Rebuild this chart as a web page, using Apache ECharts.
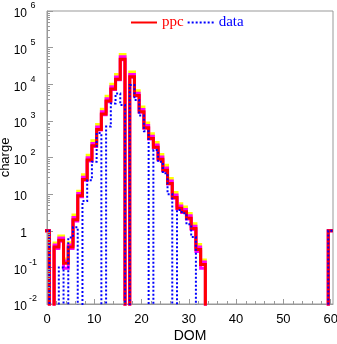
<!DOCTYPE html>
<html><head><meta charset="utf-8">
<script src="https://cdn.jsdelivr.net/npm/echarts@6/dist/echarts.min.js"></script>
<style>html,body{margin:0;padding:0;background:#fff}#c{width:337px;height:344px}</style>
</head><body><div id="c"></div>
<script>
// DOM bins 0..60 (bin k spans k-0.5 .. k+0.5)
const doms = [0,1,2,3,4,5,6,7,8,9,10,11,12,13,14,15,16,17,18,19,20,21,22,23,24,25,26,27,28,29,30,
  31,32,33,34,35,36,37,38,39,40,41,42,43,44,45,46,47,48,49,50,51,52,53,54,55,56,57,58,59,60];
const ppc = [1, 0, 0.36, 0.55, 0.13, 0.36, 2.0, 9, 25, 85, 210, 585, 1540, 3470, 7400, 13600, 48000, 0,
  16000, 4900, 1780, 650, 330, 190, 89, 45, 19.6, 8.1, 4.1, 3.3, 2.2, 1.15, 0.31, 0.12,
  0,0,0,0,0,0,0,0,0,0,0,0,0,0,0,0,0,0,0,0,0,0,0,0,0,0, 1];
const dataVals = [1, 0, 0, 0.1, 0, 0.65, 1.25, 0, 6.5, 24, 76, 465, 0, 700, 3000, 5600, 2700, 0,
  9500, 3700, 1400, 520, 0, 160, 76, 37, 10, 0, 3.7, 3.0, 1.5, 0.68, 0, 0,
  0,0,0,0,0,0,0,0,0,0,0,0,0,0,0,0,0,0,0,0,0,0,0,0,0,0, 1];
const band2Hi = [1, 0, 0.46, 0.72, 0.17, 0.47, 2.7, 12, 34, 115, 285, 790, 2080, 4700, 10000, 18400, 65000, 0,
  21600, 6600, 2400, 880, 445, 256, 120, 61, 26.5, 11, 5.5, 4.45, 2.95, 1.55, 0.42, 0.16,
  0,0,0,0,0,0,0,0,0,0,0,0,0,0,0,0,0,0,0,0,0,0,0,0,0,0, 1];
const band1Hi = [1, 0, 0.41, 0.63, 0.15, 0.41, 2.3, 10.4, 29, 98, 243, 680, 1780, 4000, 8600, 15800, 56000, 0,
  18500, 5700, 2060, 750, 380, 220, 103, 52, 22.7, 9.4, 4.75, 3.8, 2.55, 1.33, 0.36, 0.14,
  0,0,0,0,0,0,0,0,0,0,0,0,0,0,0,0,0,0,0,0,0,0,0,0,0,0, 1];
const band1Lo = [1, 0, 0.33, 0.52, 0.095, 0.33, 1.85, 8.5, 24, 80, 200, 560, 1480, 3350, 7150, 13200, 46500, 0,
  15500, 4750, 1720, 630, 320, 184, 86, 43.5, 18.8, 7.7, 3.9, 3.15, 2.1, 1.08, 0.27, 0.095,
  0,0,0,0,0,0,0,0,0,0,0,0,0,0,0,0,0,0,0,0,0,0,0,0,0,0, 1];
// tick labels
const yTickExp = [-2, -1, 0, 1, 2, 3, 4, 5, 6];
const yTickBase = ['10', '10', '1', '10', '10', '10', '10', '10', '10'];
const yTickSup = ['-2', '-1', ' ', ' ', '2', '3', '4', '5', '6'];
const xTicks = [0, 10, 20, 30, 40, 50, 60];
const yMinorMant = [2, 3, 4, 5, 6, 7, 8, 9];
const xMinor = [2,4,6,8,12,14,16,18,22,24,26,28,32,34,36,38,42,44,46,48,52,54,56,58];

const FLOOR = 1e-6;
function steps(vals) {
  const pts = [];
  vals.forEach((v, i) => {
    const y = v > 0 ? v : FLOOR;
    pts.push([doms[i] - 0.5, y], [doms[i] + 0.5, y]);
  });
  return pts;
}
const yMinorVals = [];
for (let e = -2; e < 6; e++) yMinorMant.forEach(m => yMinorVals.push([0.001, m * Math.pow(10, e)]));

const FONT = 'Liberation Sans';
const chart = echarts.init(document.getElementById('c'), null, {renderer: 'canvas'});
function lineSeries(name, vals, color, width, type, z) {
  return {
    name, type: 'line', data: steps(vals), symbol: 'none', showSymbol: false, clip: true,
    lineStyle: {color, width, type: type || 'solid', cap: 'butt', join: 'miter'},
    itemStyle: {color}, z: z, silent: true, animation: false
  };
}
chart.setOption({
  animation: false,
  grid: {left: 47, right: 4, top: 11, bottom: 40, show: true, borderColor: '#999', borderWidth: 1,
    containLabel: false, outerBoundsMode: 'none'},
  legend: {
    data: [{name: 'ppc', textStyle: {color: '#ff0000'}}, {name: 'data', textStyle: {color: '#0000ff'}}],
    left: 130, top: 15, padding: 0, itemWidth: 26, itemHeight: 14, itemGap: 3,
    textStyle: {fontFamily: 'Liberation Serif', fontSize: 15},
    itemStyle: {opacity: 0},
    lineStyle: {width: 2}, selectedMode: false
  },
  xAxis: {
    type: 'value', min: 0, max: 60.5, interval: 10,
    axisLine: {lineStyle: {color: '#999'}},
    axisTick: {inside: true, length: 5, lineStyle: {color: '#999'}},
    axisLabel: {color: '#000', fontFamily: FONT, fontSize: 13, margin: 9, showMaxLabel: false,
      formatter: v => xTicks.indexOf(v) >= 0 ? String(v) : ''},
    splitLine: {show: false},
    name: 'DOM', nameLocation: 'middle', nameGap: 25, nameMoveOverlap: false,
    nameTextStyle: {color: '#000', fontFamily: FONT, fontSize: 14}
  },
  yAxis: {
    type: 'log', logBase: 10, min: 0.01, max: 1e6, splitNumber: 8,
    axisLine: {show: true, lineStyle: {color: '#999'}},
    axisTick: {show: true, inside: true, length: 6, lineStyle: {color: '#999'}},
    axisLabel: {
      margin: 10, color: '#000',
      formatter: v => {
        const e = Math.round(Math.log10(v));
        const i = yTickExp.indexOf(e);
        if (i < 0) return '';
        return '{b|' + yTickBase[i] + '}{e|' + yTickSup[i] + '}';
      },
      rich: {
        b: {fontFamily: FONT, fontSize: 12, color: '#000', padding: [6, 0, 0, 0]},
        e: {fontFamily: FONT, fontSize: 9, color: '#000', width: 8, align: 'left', padding: [0, 0, 10, 2]}
      }
    },
    splitLine: {show: false},
    name: 'charge', nameLocation: 'middle', nameGap: 35, nameRotate: 90, nameMoveOverlap: false,
    nameTextStyle: {color: '#000', fontFamily: FONT, fontSize: 13}
  },
  series: [
    lineSeries('band2hi', band2Hi, '#ffff00', 3, 'solid', 2),
    lineSeries('band1lo', band1Lo, '#ff00ff', 3, 'solid', 3),
    lineSeries('band1hi', band1Hi, '#ff00ff', 3, 'solid', 3),
    lineSeries('ppc', ppc, '#ff0000', 3, 'solid', 4),
    lineSeries('data', dataVals, '#0000ff', 2, [2, 2], 5),
    {
      type: 'custom', name: 'yminor', silent: true, clip: false, z: 6,
      data: yMinorVals,
      renderItem: (params, api) => {
        const p = api.coord([0, api.value(1)]);
        const x = params.coordSys.x;
        const y = Math.round(p[1]) + 0.5;
        return {type: 'line', shape: {x1: x, y1: y, x2: x + 3, y2: y}, style: {stroke: '#999', lineWidth: 1}};
      }
    },
    {
      type: 'custom', name: 'xminor', silent: true, clip: false, z: 6,
      data: xMinor.map(v => [v, 1]),
      renderItem: (params, api) => {
        const p = api.coord([api.value(0), 1]);
        const x = Math.round(p[0]) + 0.5;
        const y = params.coordSys.y + params.coordSys.height;
        return {type: 'line', shape: {x1: x, y1: y, x2: x, y2: y - 3}, style: {stroke: '#999', lineWidth: 1}};
      }
    }
  ]
});
</script>
</body></html>
